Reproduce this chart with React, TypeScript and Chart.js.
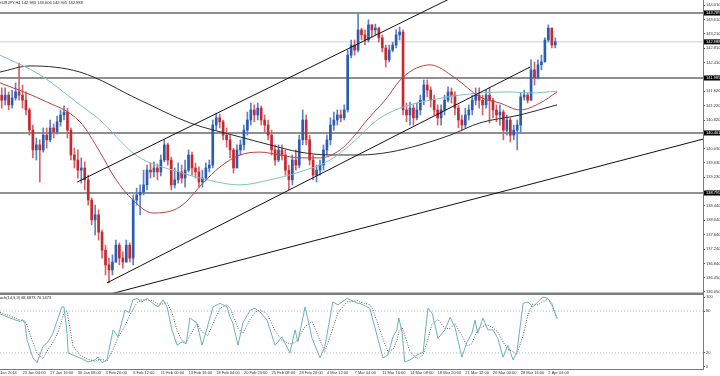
import React, { useEffect, useRef } from "react";
import { Chart, registerables } from "chart.js";
Chart.register(...registerables);

const symbolLabel = "EURJPY,H4 142.983 143.006 142.905 142.988";
const stochLabel = "Stoch(14,3,3) 68.6873 70.1473";

const firstOpen = 141.51;
const closes = [
  141.37, 141.51, 141.24, 141.43, 141.60, 141.51, 141.37, 141.10, 140.54, 139.99,
  140.13, 139.99, 140.40, 140.27, 140.60, 140.49, 140.77, 140.96, 141.04, 140.54,
  139.85, 139.71, 139.43, 139.49, 139.16, 138.60, 138.05, 138.19, 137.71, 137.21,
  136.80, 136.66, 136.88, 137.35, 136.99, 136.88, 137.35, 136.99, 138.60, 138.74,
  138.82, 139.02, 139.43, 139.38, 139.49, 139.38, 139.71, 140.13, 139.71, 139.02,
  139.16, 139.38, 139.21, 139.43, 139.85, 139.49, 139.38, 139.10, 139.21, 139.49,
  139.57, 140.68, 140.88, 140.77, 140.40, 140.27, 139.99, 139.49, 139.99, 140.13,
  140.54, 140.82, 141.10, 140.96, 141.15, 140.82, 140.68, 140.40, 139.99, 139.71,
  139.99, 139.85, 139.43, 139.16, 139.71, 139.57, 140.27, 140.82, 140.27, 139.71,
  139.29, 139.43, 139.57, 139.99, 140.27, 140.68, 140.82, 140.96, 140.88, 141.10,
  142.62, 142.90, 142.76, 143.32, 143.18, 143.04, 143.46, 143.32, 143.37, 143.10,
  142.82, 142.49, 142.76, 142.90, 143.18, 143.26, 141.10, 140.96, 141.15, 140.88,
  141.10, 141.37, 141.79, 141.65, 141.37, 141.10, 140.88, 141.10, 141.37, 141.60,
  141.51, 141.15, 140.82, 140.68, 140.96, 141.10, 141.37, 141.51, 141.37, 141.24,
  141.51, 141.37, 141.10, 140.96, 141.04, 140.54, 140.82, 140.40, 140.54, 140.68,
  141.46, 141.51, 141.37, 142.21, 141.99, 142.35, 142.43, 143.04, 143.37, 142.90,
  142.99,
];
const highs = [
  141.71, 141.71, 141.60, 141.65, 141.85, 142.40, 141.79, 141.60, 141.15, 140.68,
  140.32, 140.27, 140.60, 140.60, 140.82, 140.71, 140.93, 141.10, 141.21, 141.15,
  140.60, 140.04, 139.99, 139.77, 139.66, 139.29, 138.66, 138.46, 138.33, 137.77,
  137.35, 136.99, 137.08, 137.49, 137.41, 137.16, 137.49, 137.41, 138.74, 138.93,
  139.02, 139.43, 139.57, 139.63, 139.66, 139.60, 139.85, 140.27, 140.18, 139.79,
  139.49, 139.63, 139.57, 139.71, 139.99, 139.93, 139.63, 139.52, 139.43, 139.63,
  139.71, 140.82, 141.01, 140.99, 140.82, 140.60, 140.40, 140.04, 140.13, 140.27,
  140.68, 141.04, 141.29, 141.24, 141.29, 141.21, 140.96, 140.82, 140.54, 140.13,
  140.13, 140.13, 139.99, 139.57, 139.85, 139.99, 140.40, 141.10, 140.96, 140.40,
  139.85, 139.57, 139.71, 140.13, 140.40, 140.88, 141.04, 141.10, 141.10, 141.24,
  142.76, 143.04, 143.04, 143.79, 143.37, 143.32, 143.60, 143.46, 143.48, 143.40,
  143.18, 142.90, 142.90, 142.98, 143.32, 143.40, 143.32, 141.29, 141.32, 141.24,
  141.29, 141.51, 141.93, 141.93, 141.74, 141.51, 141.24, 141.24, 141.51, 141.74,
  141.71, 141.60, 141.24, 140.96, 141.15, 141.24, 141.51, 141.71, 141.71, 141.51,
  141.65, 141.71, 141.43, 141.24, 141.24, 141.10, 140.96, 140.88, 140.68, 140.82,
  141.57, 141.65, 141.57, 142.49, 142.43, 142.49, 142.62, 143.10, 143.46, 143.37,
  143.10,
];
const lows = [
  141.15, 141.24, 141.10, 141.15, 141.37, 141.37, 141.15, 140.96, 140.40, 139.77,
  139.71, 139.10, 139.93, 140.04, 140.21, 140.32, 140.43, 140.65, 140.82, 140.32,
  139.71, 139.49, 139.21, 139.07, 138.88, 138.46, 137.91, 137.63, 137.49, 136.99,
  136.52, 136.30, 136.52, 136.88, 136.80, 136.71, 136.88, 136.88, 136.80, 138.46,
  138.19, 138.74, 138.88, 139.21, 139.24, 139.16, 139.27, 139.66, 139.57, 138.88,
  138.93, 139.07, 139.07, 138.96, 139.38, 139.29, 139.21, 138.96, 138.96, 139.16,
  139.38, 139.49, 140.54, 140.60, 140.27, 140.07, 139.77, 139.35, 139.49, 139.85,
  139.99, 140.40, 140.68, 140.77, 140.82, 140.68, 140.49, 140.27, 139.85, 139.57,
  139.66, 139.71, 139.29, 138.88, 139.02, 139.43, 139.49, 140.13, 140.13, 139.57,
  139.16, 139.10, 139.29, 139.43, 139.85, 140.13, 140.54, 140.68, 140.77, 140.82,
  141.04, 142.54, 142.62, 142.71, 143.04, 142.90, 142.98, 143.12, 143.18, 142.98,
  142.71, 142.29, 142.43, 142.71, 142.82, 143.04, 140.96, 140.77, 140.68, 140.68,
  140.82, 140.96, 141.24, 141.46, 141.18, 140.96, 140.68, 140.68, 140.96, 141.32,
  141.29, 140.96, 140.60, 140.54, 140.60, 140.82, 140.96, 141.24, 141.15, 140.96,
  141.15, 140.74, 140.88, 140.77, 140.68, 140.27, 140.40, 140.21, 140.27, 139.99,
  140.46, 141.37, 141.29, 141.37, 141.79, 141.96, 142.21, 142.43, 142.98, 142.82,
  142.82,
];

// moving averages (bar position, price)
const redBars = [-0.5, 11.9, 22.6, 28.4, 32.7, 37.9, 43.7, 51.5, 58.2, 63.1, 68.9, 74.6, 80.4, 86.2, 92.0, 97.8, 102.1, 105.6, 110.8, 116.0, 123.8, 131.0, 138.2, 144.0, 149.8, 155.6, 160.5];
const redMA = [141.85, 141.37, 140.77, 139.93, 139.21, 138.60, 138.24, 138.41, 139.07, 139.52, 139.85, 139.93, 139.85, 139.77, 139.77, 139.99, 140.40, 140.82, 141.37, 142.01, 142.35, 141.99, 141.46, 141.29, 141.10, 141.29, 141.60];
const tealBars = [-0.5, 11.1, 22.6, 28.4, 37.9, 42.9, 49.5, 57.3, 68.9, 77.5, 86.2, 94.9, 100.7, 108.5, 115.1, 123.8, 132.4, 138.2, 146.9, 152.7, 160.5];
const tealMA = [142.62, 142.07, 141.24, 140.82, 139.91, 139.63, 139.43, 139.21, 139.02, 139.16, 139.38, 139.71, 140.13, 140.82, 141.15, 141.37, 141.51, 141.57, 141.60, 141.57, 141.62];
const blackBars = [-0.5, 8.2, 22.6, 40.0, 54.4, 68.9, 77.5, 86.2, 94.9, 103.5, 112.2, 120.9, 129.6, 138.2, 149.8, 160.5];
const blackMA = [142.15, 142.32, 142.15, 141.37, 140.74, 140.35, 140.13, 139.93, 139.85, 139.85, 139.93, 140.13, 140.40, 140.74, 140.96, 141.24];

// trend lines: [bar, price] pairs
const upperChannel = [[21.8, 139.10], [140, 144.68]];
const lowerChannel = [[30.4, 136.30], [152.7, 142.29]];
const longLine = [[31.3, 135.99], [202.7, 140.29]];

const levels = [143.789, 141.985, 140.461, 138.795];
const currentPrice = 142.988;

const priceTicks = [144.01, 143.61, 143.21, 142.81, 142.41, 142.02, 141.62, 141.22, 140.82, 140.43, 140.03, 139.63, 139.23, 138.84, 138.44, 138.04, 137.64, 137.24, 136.84, 136.45, 136.05];

const stochBars = [-0.5, 2.4, 5.3, 5.9, 6.7, 7.3, 9.0, 10.2, 11.9, 13.4, 14.8, 16.3, 17.4, 18.0, 18.9, 19.2, 20.6, 22.6, 24.9, 27.0, 27.8, 29.0, 30.4, 32.2, 33.6, 35.6, 36.8, 37.9, 39.1, 40.5, 42.0, 43.7, 45.2, 46.6, 47.8, 49.2, 50.7, 52.1, 53.3, 54.4, 56.4, 57.9, 59.6, 61.1, 63.1, 65.1, 66.0, 66.8, 68.3, 69.7, 71.8, 73.2, 74.6, 76.7, 79.0, 81.0, 83.3, 84.8, 85.6, 87.7, 89.7, 92.0, 93.4, 95.7, 97.2, 99.8, 103.0, 103.5, 106.4, 107.3, 110.2, 111.6, 113.1, 114.2, 114.8, 115.7, 116.5, 118.0, 120.0, 121.8, 123.2, 124.4, 126.1, 128.1, 129.6, 131.0, 133.0, 134.5, 135.9, 136.8, 137.6, 139.1, 140.5, 142.0, 143.4, 144.9, 146.3, 147.8, 148.9, 150.7, 152.1, 153.5, 155.0, 156.4, 157.9, 159.0, 160.5];
const stochMain = [76, 70, 65, 68, 63, 39, 13, 6, 29, 36, 48, 70, 86, 86, 48, 20, 17, 13, 7, 10, 14, 6, 10, 53, 43, 81, 78, 96, 98, 93, 98, 91, 86, 96, 86, 53, 31, 36, 33, 70, 63, 31, 60, 86, 91, 86, 71, 63, 31, 63, 81, 84, 79, 67, 31, 43, 20, 53, 36, 86, 41, 13, 29, 93, 89, 98, 91, 91, 84, 67, 13, 17, 43, 53, 70, 50, 7, 10, 17, 21, 84, 77, 41, 53, 71, 57, 14, 36, 48, 67, 48, 70, 53, 53, 41, 14, 31, 10, 21, 91, 93, 86, 93, 100, 98, 91, 68.7];
const stochSignal = [78, 73, 67, 66, 66, 60, 35, 20, 12, 25, 35, 50, 68, 78, 80, 70, 30, 17, 11, 8, 10, 11, 8, 25, 42, 58, 72, 82, 92, 96, 96, 95, 90, 90, 92, 78, 52, 38, 35, 45, 62, 50, 45, 62, 84, 89, 84, 75, 55, 48, 68, 78, 82, 76, 52, 38, 33, 35, 40, 58, 65, 38, 22, 55, 78, 93, 95, 93, 89, 82, 40, 22, 25, 38, 50, 57, 45, 22, 12, 17, 40, 62, 68, 55, 55, 62, 45, 30, 33, 45, 54, 58, 60, 56, 50, 36, 25, 22, 18, 45, 75, 90, 89, 94, 97, 88, 70.1];
const stochLevels = [80, 20];
const stochTicks = [100, 80, 20, 0];

const dateTickBars = [-2, 6, 14, 22, 30, 38, 46, 54, 62, 70, 78, 86, 94, 102, 110, 118, 126, 134, 142, 150, 158];
const dateLabels = ["20 Jan 2014", "23 Jan 04:00", "27 Jan 16:00", "30 Jan 08:00", "3 Feb 20:00", "6 Feb 12:00", "11 Feb 00:00", "13 Feb 16:00", "18 Feb 04:00", "20 Feb 20:00", "25 Feb 08:00", "28 Feb 20:00", "4 Mar 12:00", "7 Mar 04:00", "11 Mar 16:00", "14 Mar 08:00", "18 Mar 20:00", "21 Mar 12:00", "26 Mar 00:00", "28 Mar 16:00", "2 Apr 04:00"];

const X_MIN = -0.5;
const X_MAX = 202.7;
const Y_MAX = 144.149;
const Y_MIN = 135.966;
const FONT = "'Liberation Sans', Arial, sans-serif";

const pts = (xs: number[], ys: number[]) => xs.map((x, i) => ({ x, y: ys[i] }));
const seg = (p: number[][]) => p.map(([x, y]) => ({ x, y }));

export default function App() {
  const mainRef = useRef<HTMLCanvasElement>(null);
  const stochRef = useRef<HTMLCanvasElement>(null);

  useEffect(() => {
    Chart.defaults.font.family = FONT;
    const opens = closes.map((c, i) => (i === 0 ? firstOpen : closes[i - 1]));
    const up = closes.map((c, i) => c >= opens[i]);
    const colUp = "#2a5cb2";
    const colDn = "#c62a31";
    const bodies = closes.map((c, i) => ({ x: i, y: [opens[i], c] }));
    const wicks = closes.map((c, i) => ({ x: i, y: [lows[i], highs[i]] }));

    const lineDs = (data: any[], color: string, width = 1, extra: any = {}) => ({
      type: "line" as const,
      data,
      borderColor: color,
      borderWidth: width,
      pointRadius: 0,
      fill: false,
      ...extra,
    });

    const mainDecor = {
      id: "mainDecor",
      afterDraw(chart: any) {
        const { ctx, chartArea, scales } = chart;
        ctx.save();
        ctx.fillStyle = "#7d7d7d";
        ctx.fillRect(0, chartArea.bottom - 2.5, chartArea.right, 2.5);
        ctx.font = `4px ${FONT}`;
        ctx.textBaseline = "middle";
        [...levels, currentPrice].forEach((v) => {
          const py = scales.y.getPixelForValue(v);
          ctx.fillStyle = "#000";
          ctx.fillRect(chartArea.right + 1, py - 2.5, 17, 5);
          ctx.fillStyle = "#fff";
          ctx.fillText(v.toFixed(3), chartArea.right + 3, py);
        });
        ctx.fillStyle = "#222";
        ctx.textBaseline = "top";
        ctx.fillText(symbolLabel, -1, 0.5);
        ctx.restore();
      },
    };

    const main = new Chart(mainRef.current as HTMLCanvasElement, {
      type: "bar",
      data: {
        datasets: [
          lineDs(seg(upperChannel), "#111"),
          lineDs(seg(lowerChannel), "#111"),
          lineDs(seg(longLine), "#111"),
          lineDs(pts(redBars, redMA), "#b8423e", 1, { cubicInterpolationMode: "monotone" }),
          lineDs(pts(tealBars, tealMA), "#7fc0c6", 1, { cubicInterpolationMode: "monotone" }),
          lineDs(pts(blackBars, blackMA), "#2b2b2b", 1, { cubicInterpolationMode: "monotone" }),
          {
            type: "bar",
            data: bodies,
            backgroundColor: (c: any) => (up[c.dataIndex] ? colUp : colDn),
            barThickness: 2,
            grouped: false,
            minBarLength: 1,
          },
          {
            type: "bar",
            data: wicks,
            backgroundColor: (c: any) => (up[c.dataIndex] ? "#5a82c8" : "#d5626a"),
            barThickness: 1,
            grouped: false,
          },
          ...levels.map((v) => lineDs([{ x: X_MIN, y: v }, { x: X_MAX, y: v }], "#6a6a6a", 1.5)),
          lineDs([{ x: X_MIN, y: currentPrice }, { x: X_MAX, y: currentPrice }], "#cfcfcf", 1),
        ] as any,
      },
      options: {
        responsive: false,
        animation: false,
        devicePixelRatio: 1,
        layout: { padding: 0, autoPadding: false },
        plugins: { legend: { display: false }, tooltip: { enabled: false } },
        scales: {
          x: { type: "linear", min: X_MIN, max: X_MAX, offset: false, display: false, grid: { offset: false } },
          y: {
            position: "right",
            min: Y_MIN,
            max: Y_MAX,
            beginAtZero: false,
            afterFit: (s: any) => {
              s.width = 17;
              s.paddingTop = 0;
              s.paddingBottom = 0;
            },
            afterBuildTicks: (s: any) => {
              s.ticks = priceTicks.map((v) => ({ value: v }));
            },
            ticks: { font: { size: 4 }, color: "#333", padding: 1, callback: (v: any) => Number(v).toFixed(3) },
            grid: { drawOnChartArea: false, drawTicks: true, tickLength: 2, color: "#555" },
            border: { display: true, color: "#7a7a7a", width: 1 },
          },
        },
      } as any,
      plugins: [mainDecor],
    });

    const stochDecor = {
      id: "stochDecor",
      afterDraw(chart: any) {
        const { ctx } = chart;
        ctx.save();
        ctx.font = `4px ${FONT}`;
        ctx.fillStyle = "#222";
        ctx.textBaseline = "top";
        ctx.fillText(stochLabel, -4, 1);
        ctx.restore();
      },
    };

    const stoch = new Chart(stochRef.current as HTMLCanvasElement, {
      type: "line",
      data: {
        datasets: [
          lineDs(pts(stochBars, stochMain), "#6ab3b3", 1),
          lineDs(pts(stochBars, stochSignal), "#6e5858", 1, { borderDash: [1, 1.5] }),
          ...stochLevels.map((v) => lineDs([{ x: X_MIN, y: v }, { x: X_MAX, y: v }], "#b5b5b5", 1, { borderDash: [1, 2] })),
        ] as any,
      },
      options: {
        responsive: false,
        animation: false,
        devicePixelRatio: 1,
        layout: { padding: 0, autoPadding: false },
        plugins: { legend: { display: false }, tooltip: { enabled: false } },
        scales: {
          x: {
            type: "linear",
            min: X_MIN,
            max: X_MAX,
            offset: false,
            afterFit: (s: any) => {
              s.height = 7;
              s.paddingLeft = 0;
              s.paddingRight = 0;
            },
            afterBuildTicks: (s: any) => {
              s.ticks = dateTickBars.map((v) => ({ value: v }));
            },
            ticks: {
              autoSkip: false,
              maxRotation: 0,
              minRotation: 0,
              align: "start",
              font: { size: 4 },
              color: "#333",
              padding: 1,
              callback: (_v: any, i: number) => dateLabels[i],
            },
            grid: { drawOnChartArea: false, drawTicks: false },
            border: { display: true, color: "#7a7a7a", width: 1 },
          },
          y: {
            position: "right",
            min: -3,
            max: 103,
            afterFit: (s: any) => {
              s.width = 17;
              s.paddingTop = 0;
              s.paddingBottom = 0;
            },
            afterBuildTicks: (s: any) => {
              s.ticks = stochTicks.map((v) => ({ value: v }));
            },
            ticks: { font: { size: 4 }, color: "#333", padding: 1 },
            grid: { drawOnChartArea: false, drawTicks: true, tickLength: 2, color: "#555" },
            border: { display: true, color: "#7a7a7a", width: 1 },
          },
        },
      } as any,
      plugins: [stochDecor],
    });

    return () => {
      main.destroy();
      stoch.destroy();
    };
  }, []);

  return (
    <div style={{ position: "fixed", left: 0, top: 0, width: 720, height: 376, background: "#fff" }}>
      <canvas ref={mainRef} width={720} height={295} style={{ display: "block" }} />
      <canvas ref={stochRef} width={720} height={81} style={{ display: "block" }} />
    </div>
  );
}
